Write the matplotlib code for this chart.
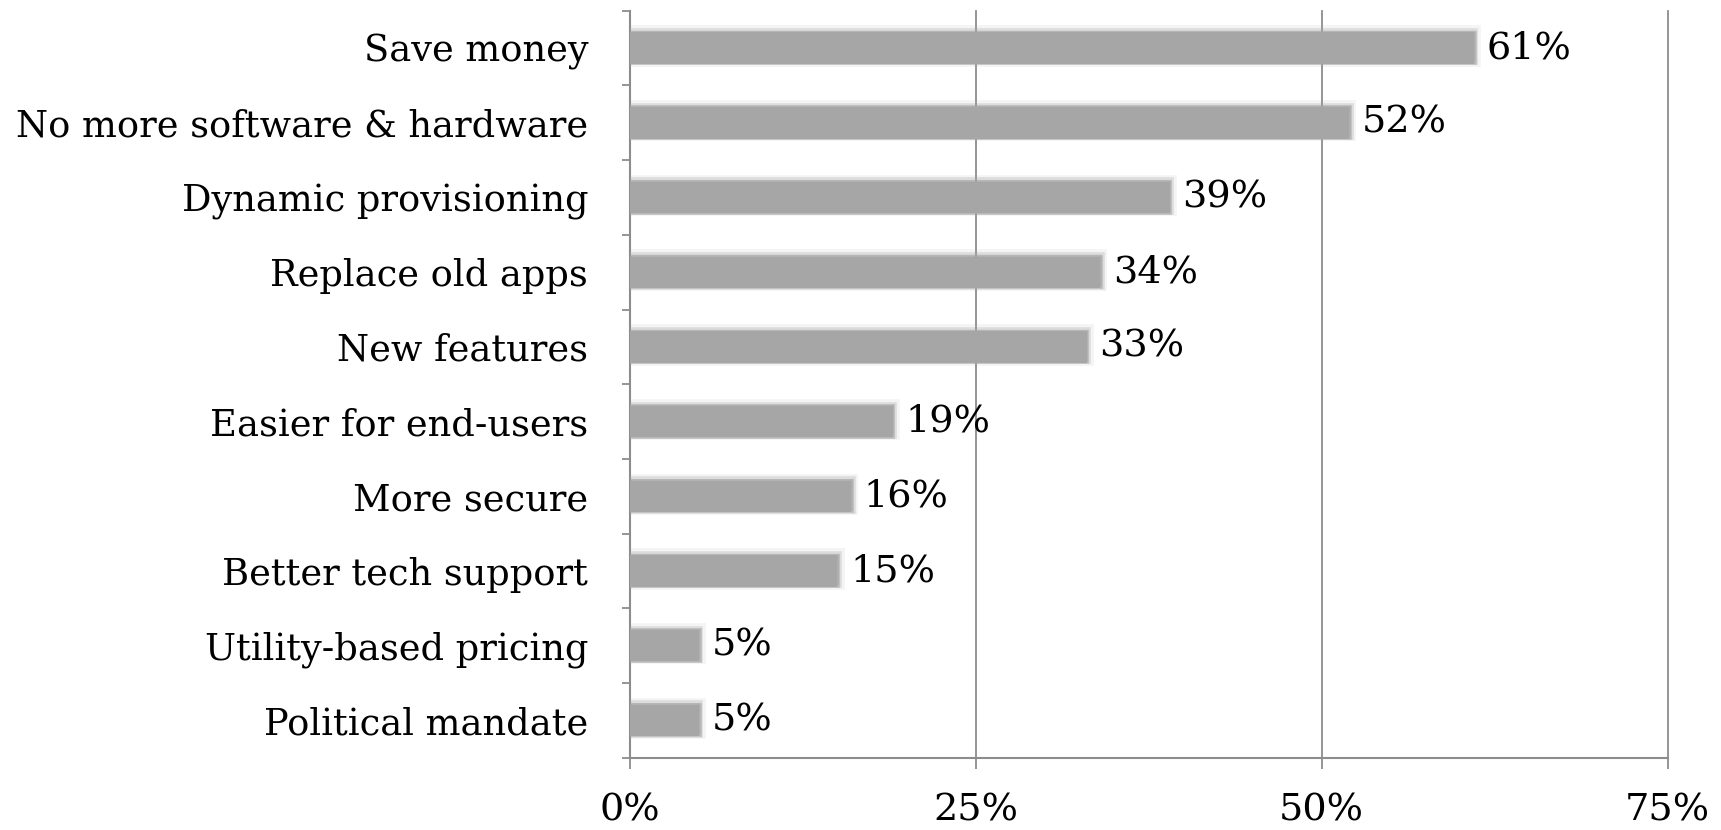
import matplotlib
matplotlib.use("Agg")
import matplotlib.pyplot as plt
import matplotlib.patheffects as pe
from matplotlib.ticker import FixedLocator
import numpy as np

# Данные
categories = ["Save money", "No more software & hardware", "Dynamic provisioning",
              "Replace old apps", "New features", "Easier for end-users",
              "More secure", "Better tech support", "Utility-based pricing",
              "Political mandate"]
values = [61, 52, 39, 34, 33, 19, 16, 15, 5, 5]
x_ticks = [0, 25, 50, 75]

plt.rcParams["font.family"] = ["DejaVu Serif"]

fig = plt.figure(figsize=(17.21, 8.30), dpi=100)
ax = fig.add_axes([0.366, 0.087, 0.603, 0.9])

y = np.arange(len(categories))[::-1]
bar_color = "#a6a6a6"
grid_color = "#8c8c8c"

bars = ax.barh(y, values, height=0.42, color=bar_color, zorder=3)
for b in bars:
    b.set_path_effects([
        pe.Stroke(linewidth=7, foreground=bar_color, alpha=0.12, offset=(1.5, 1.5)),
        pe.Stroke(linewidth=4, foreground=bar_color, alpha=0.3, offset=(1, 1)),
        pe.Stroke(linewidth=2, foreground=bar_color, alpha=0.5, offset=(0.5, 0.5)),
        pe.Normal(),
    ])

for yi, v in zip(y, values):
    ax.text(v + 0.9, yi, f"{v}%", va="center", ha="left", fontsize=27.5, zorder=4)

ax.set_xlim(0, 75)
ax.set_ylim(-0.5, len(categories) - 0.5)

ax.set_xticks(x_ticks)
ax.set_xticklabels([f"{t}%" for t in x_ticks], fontsize=27.5)
ax.set_yticks(y)
ax.set_yticklabels(categories, fontsize=26.5)
ax.yaxis.set_minor_locator(FixedLocator(np.arange(-0.5, len(categories), 1)))

ax.tick_params(axis="y", which="major", length=0, pad=30)
ax.tick_params(axis="y", which="minor", length=6, width=1.3, color=grid_color, direction="out")
ax.tick_params(axis="x", which="major", length=8, width=1.3, color=grid_color, direction="out", pad=17)

ax.xaxis.grid(True, color=grid_color, linewidth=1.3, zorder=0)
ax.set_axisbelow(True)
for g in ax.get_xgridlines():
    g.set_clip_on(False)

for s in ["top", "right"]:
    ax.spines[s].set_visible(False)
for s in ["left", "bottom"]:
    ax.spines[s].set_color(grid_color)
    ax.spines[s].set_linewidth(1.5)

fig.savefig("out.png", dpi=100, facecolor="white")
